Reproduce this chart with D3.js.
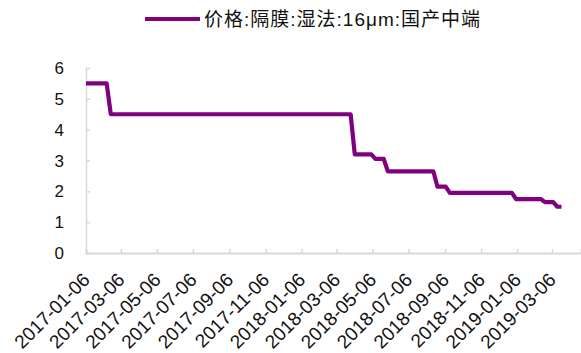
<!DOCTYPE html>
<html>
<head>
<meta charset="utf-8">
<script src="https://cdn.jsdelivr.net/npm/d3@7"></script>
<style>
  html, body { margin: 0; padding: 0; background: #fff; }
  svg { display: block; }
  text { font-family: "Liberation Sans", Arial, "Noto Sans CJK SC", sans-serif; fill: #111; }
</style>
</head>
<body>
<svg id="chart" width="581" height="353"></svg>
<script>
// Weekly price observations (only the weeks around each price change)
const dates = [
  "2017-01-06", "2017-02-10", "2017-02-17", "2018-03-30", "2018-04-06",
  "2018-05-04", "2018-05-11", "2018-05-25", "2018-06-01", "2018-08-17",
  "2018-08-24", "2018-09-07", "2018-09-14", "2018-12-28", "2019-01-04",
  "2019-02-15", "2019-02-22", "2019-03-08", "2019-03-15", "2019-03-22"
];
const prices = [
  5.5, 5.5, 4.5, 4.5, 3.2,
  3.2, 3.05, 3.05, 2.65, 2.65,
  2.15, 2.15, 1.95, 1.95, 1.75,
  1.75, 1.65, 1.65, 1.5, 1.5
];
const seriesName = "价格:隔膜:湿法:16μm:国产中端";
const xTickLabels = [
  "2017-01-06", "2017-03-06", "2017-05-06", "2017-07-06", "2017-09-06",
  "2017-11-06", "2018-01-06", "2018-03-06", "2018-05-06", "2018-07-06",
  "2018-09-06", "2018-11-06", "2019-01-06", "2019-03-06"
];
const yTicks = [0, 1, 2, 3, 4, 5, 6];
const xDomain = ["2017-01-06", "2019-04-24"];

const parse = d3.utcParse("%Y-%m-%d");
const data = dates.map((d, i) => ({ date: parse(d), value: prices[i] }));

const svg = d3.select("#chart");
const color = "#800080";
const axisColor = "#d9d9d9";

const x = d3.scaleUtc().domain(xDomain.map(parse)).range([86, 581]);
const y = d3.scaleLinear().domain([0, 6]).range([253, 68]);

// y axis: ticks point inward
const yAxis = d3.axisRight(y).tickValues(yTicks).tickSize(4).tickFormat("");
const gy = svg.append("g").attr("transform", `translate(${x.range()[0]},0)`).call(yAxis);
gy.select(".domain").attr("stroke", axisColor).attr("stroke-width", 1.5);
gy.selectAll(".tick line").attr("stroke", axisColor).attr("stroke-width", 1.5);

svg.append("g").selectAll("text").data(yTicks).join("text")
  .attr("x", 64).attr("y", d => y(d)).attr("dy", "0.36em")
  .attr("text-anchor", "end").style("font-size", "17px")
  .text(d => d);

// x axis: ticks point up into the plot
const xAxis = d3.axisTop(x).tickValues(xTickLabels.map(parse)).tickSize(4).tickFormat("");
const gx = svg.append("g").attr("transform", `translate(0,${y(0)})`).call(xAxis);
gx.select(".domain").attr("stroke", axisColor).attr("stroke-width", 2);
gx.selectAll(".tick line").attr("stroke", axisColor).attr("stroke-width", 1.5);

svg.append("g").selectAll("text").data(xTickLabels).join("text")
  .attr("transform", d => `translate(${x(parse(d)) + 5},${y(0) + 28}) rotate(-45)`)
  .attr("text-anchor", "end")
  .style("font-size", "19px")
  .text(d => d);

// price line
const line = d3.line().x(d => x(d.date)).y(d => y(d.value));
svg.append("path").datum(data)
  .attr("d", line)
  .attr("fill", "none")
  .attr("stroke", color)
  .attr("stroke-width", 4.2)
  .attr("stroke-linejoin", "round");

// legend
const legend = svg.append("g");
legend.append("line")
  .attr("x1", 145).attr("x2", 200).attr("y1", 19).attr("y2", 19)
  .attr("stroke", color).attr("stroke-width", 4.2);
legend.append("text")
  .attr("x", 204).attr("y", 19).attr("dy", "0.36em")
  .style("font-size", "19px").style("letter-spacing", "1px")
  .text(seriesName);
</script>
</body>
</html>
